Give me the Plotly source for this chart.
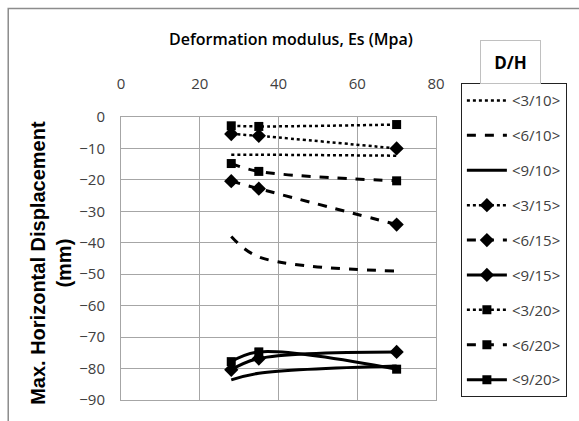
import plotly.graph_objects as go

# Data
es = [28, 35, 70]  # Deformation modulus, Es (MPa)
names = ["<3/10>", "<6/10>", "<9/10>", "<3/15>", "<6/15>", "<9/15>", "<3/20>", "<6/20>", "<9/20>"]
d3_10 = [-12.0, -12.0, -12.3]
d6_10 = [-38.0, -44.5, -49.0]
d9_10 = [-83.6, -81.5, -79.2]
d3_15 = [-5.4, -6.0, -10.0]
d6_15 = [-20.4, -22.8, -34.2]
d9_15 = [-80.4, -76.8, -74.7]
d3_20 = [-2.8, -3.0, -2.4]
d6_20 = [-14.8, -17.3, -20.3]
d9_20 = [-77.8, -74.7, -80.2]
series = [d3_10, d6_10, d9_10, d3_15, d6_15, d9_15, d3_20, d6_20, d9_20]

x_ticks = [0, 20, 40, 60, 80]
y_ticks = [0, -10, -20, -30, -40, -50, -60, -70, -80, -90]

dashes = ["dot", "dash", "solid"] * 3
widths = [2.5, 3, 3] * 3
symbols = [None] * 3 + ["diamond"] * 3 + ["square"] * 3

fig = go.Figure()
for i, (nm, ys) in enumerate(zip(names, series)):
    sym = symbols[i]
    fig.add_trace(go.Scatter(
        x=es, y=ys,
        name=nm.replace("<", "&lt;").replace(">", "&gt;"),
        legendgroup=f"g{i}",
        mode="lines+markers" if sym else "lines",
        line=dict(color="black", width=widths[i], dash=dashes[i],
                  shape="spline", smoothing=1.0),
        marker=dict(symbol=sym, size=11 if sym == "diamond" else 9, color="black") if sym else None,
    ))

grid = "#a6a6a6"
tickfont = dict(family="Open Sans", size=15, color="#404040")
fig.update_xaxes(
    range=[0, 80], tickvals=x_ticks, side="top",
    showgrid=True, gridcolor=grid, gridwidth=1,
    showline=True, linecolor=grid, mirror=True, zeroline=False,
    ticks="outside", ticklen=21, tickcolor="rgba(0,0,0,0)",
    tickfont=tickfont,
)
fig.update_yaxes(
    range=[-90, 0], tickvals=y_ticks,
    showgrid=True, gridcolor=grid, gridwidth=1,
    showline=True, linecolor=grid, mirror=True, zeroline=False,
    ticks="outside", ticklen=12, tickcolor="rgba(0,0,0,0)",
    tickfont=tickfont,
)

fig.update_layout(
    width=579, height=421,
    margin=dict(l=121, r=137, t=117, b=17),
    paper_bgcolor="white", plot_bgcolor="white",
    showlegend=True,
    legend=dict(
        x=1.079, y=1.1195, xanchor="left", yanchor="top",
        bordercolor="#222222", borderwidth=1, bgcolor="white",
        font=dict(family="Open Sans", size=15, color="#404040"),
        tracegroupgap=12.4, itemwidth=40, maxheight=400,
    ),
    shapes=[dict(type="rect", xref="paper", yref="paper",
                 x0=-0.358, x1=2.0, y0=-1.0, y1=1.383,
                 line=dict(color="#8c8c8c", width=1.5), layer="below")],
    annotations=[
        dict(text="Deformation modulus, Es (Mpa)", xref="paper", yref="paper",
             x=0.539, y=1.275, xanchor="center", yanchor="middle", showarrow=False,
             font=dict(family="Open Sans", size=16, color="black", weight=600)),
        dict(text="Max. Horizontal Displacement<br>(mm)", xref="paper", yref="paper",
             x=-0.221, y=0.486, xanchor="center", yanchor="middle", showarrow=False,
             textangle=-90,
             font=dict(family="Liberation Sans", size=20, color="black", weight="bold")),
        dict(text="<b>D/H</b>", xref="paper", yref="paper",
             x=1.238, y=1.195, xanchor="center", yanchor="middle", showarrow=False,
             width=59, height=42, borderpad=0, bordercolor="#c0c0c0", borderwidth=1,
             bgcolor="white",
             font=dict(family="Open Sans", size=17, color="black")),
    ],
)

fig.write_html("out.html")
